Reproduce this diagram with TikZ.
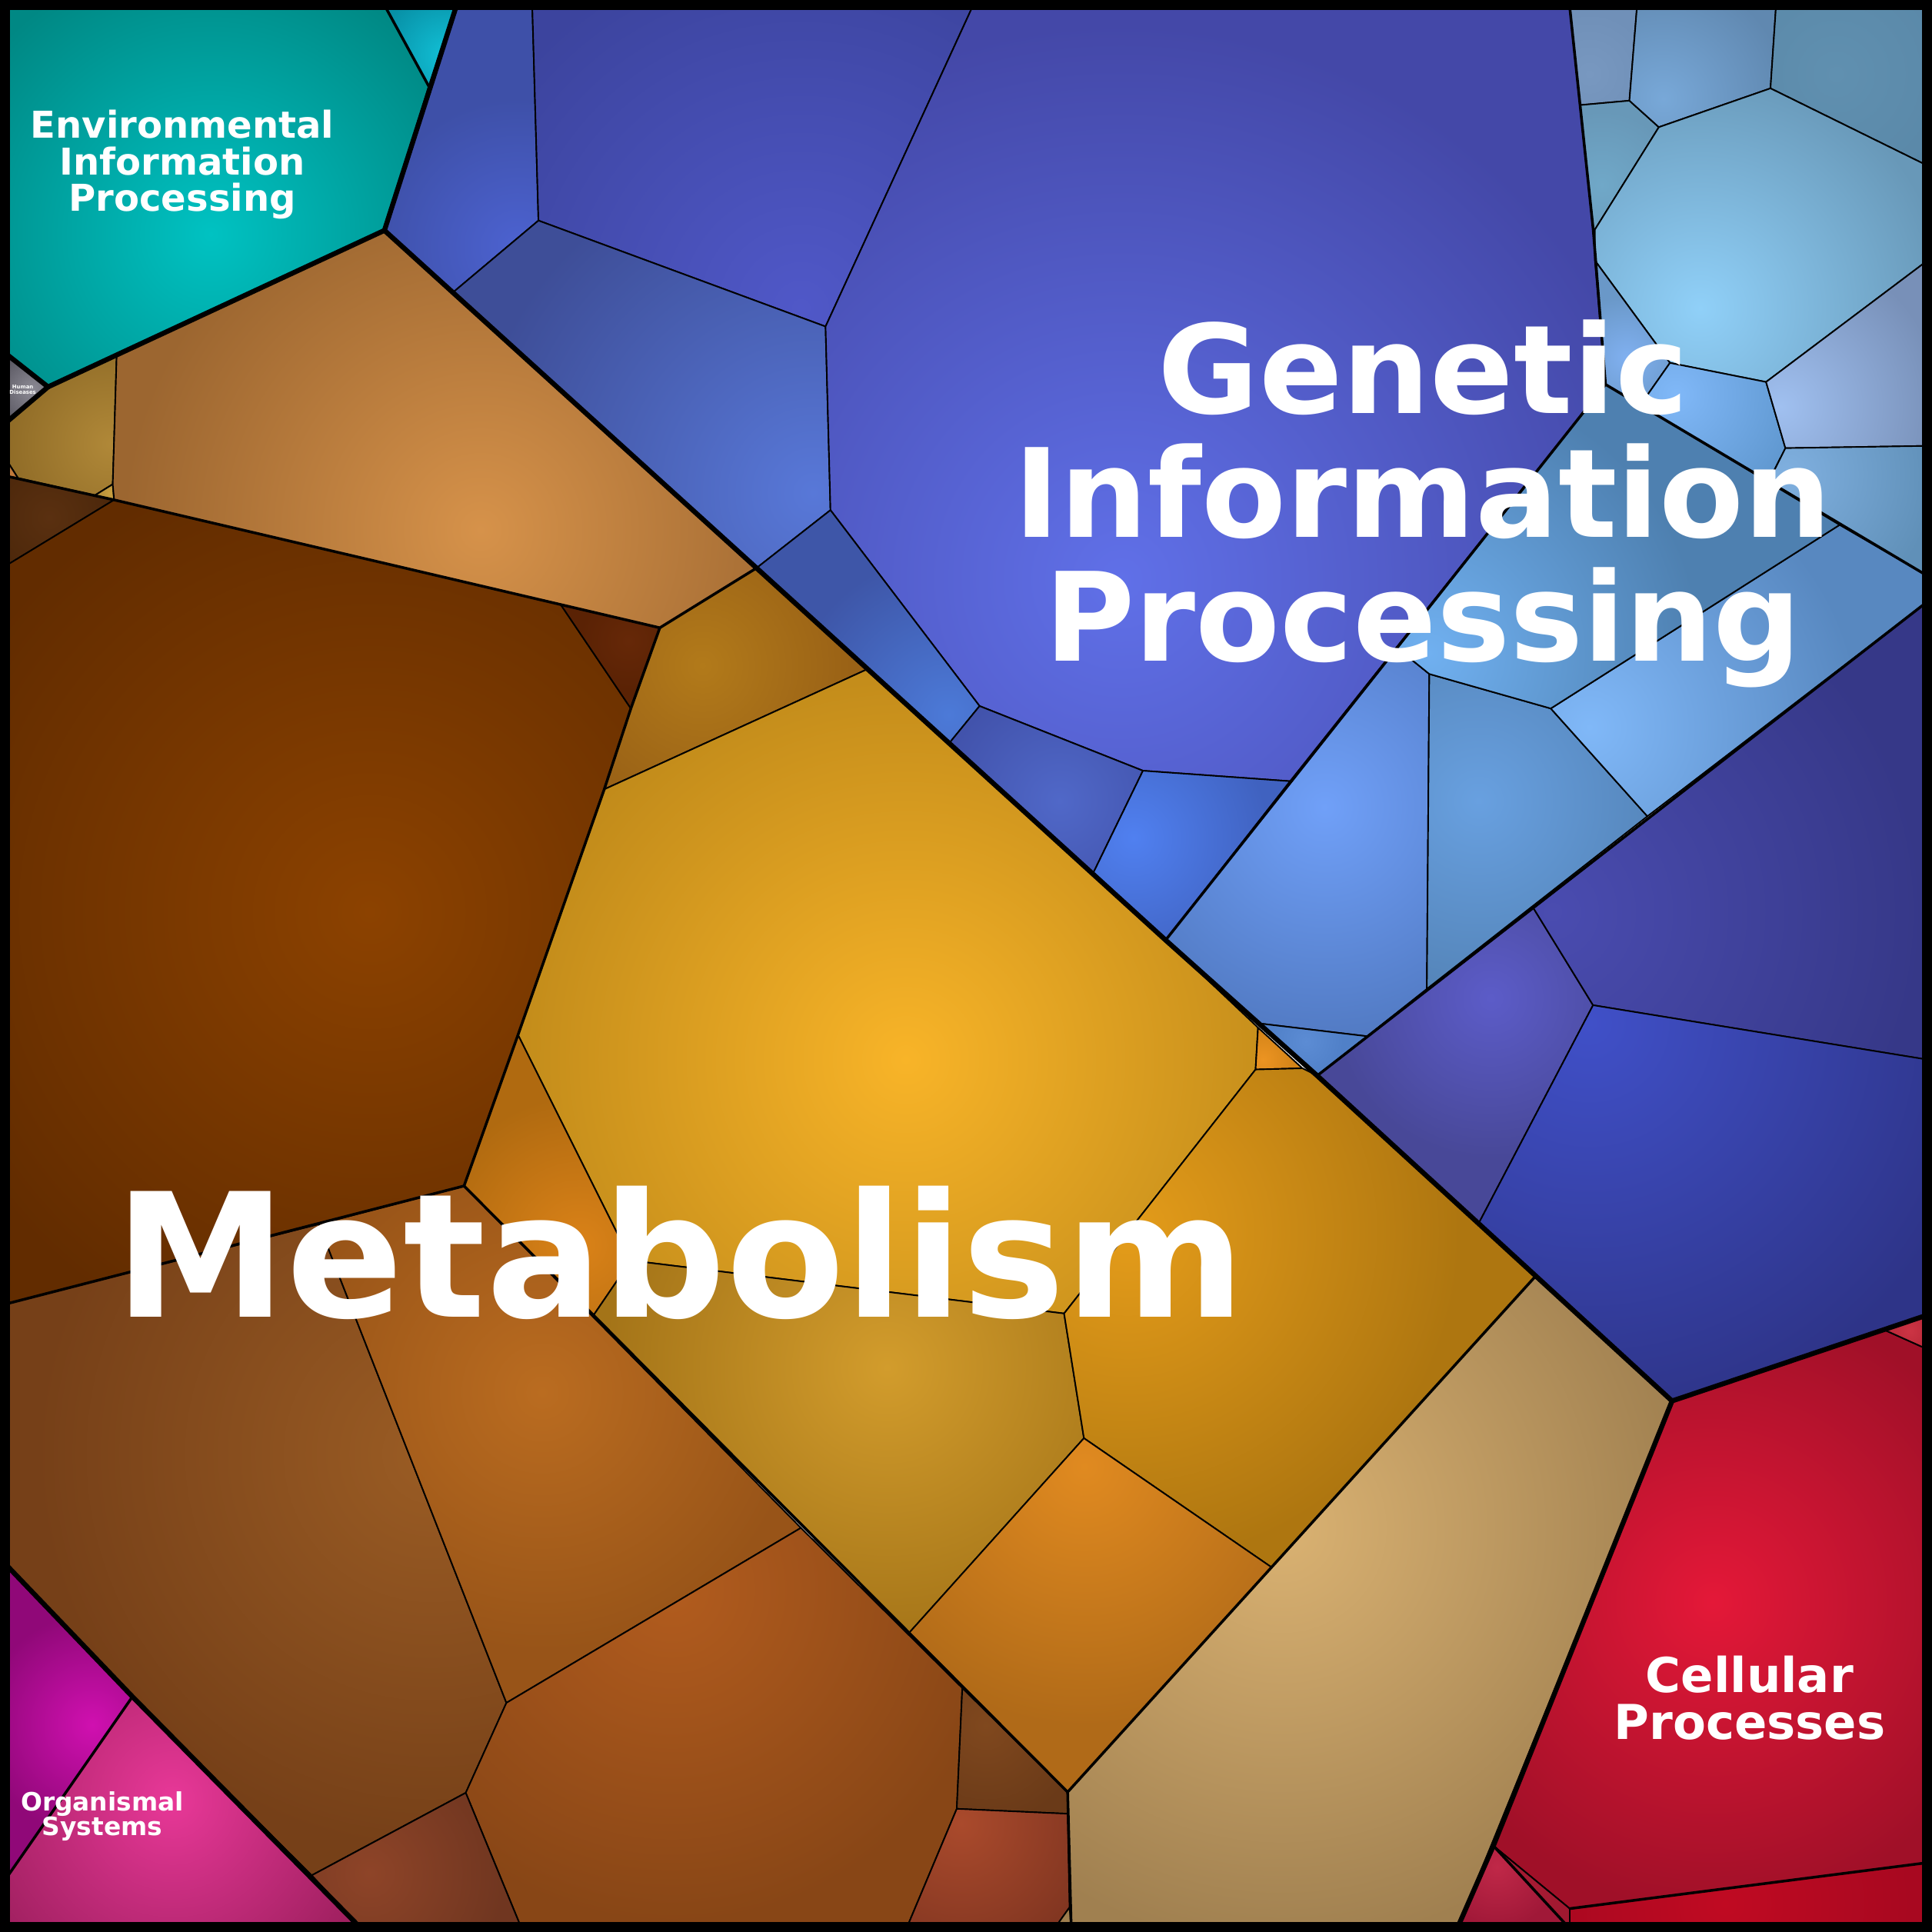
\documentclass[tikz,border=0pt]{standalone}
\usepackage{fontspec}
\setmainfont{DejaVu Sans}
\usepackage{tikz}
\tikzset{pathway/.style={draw=black,line width=1.2pt,line join=round},
 subclass/.style={draw=black,line width=2.2pt,line join=round,line cap=round},
 toplevel/.style={draw=black,line width=4pt,line join=round,line cap=round},
 caption/.style={text=white,align=center,inner sep=0pt},
 }
\newcommand{\vcell}[5]{%
  \definecolor{cellin}{HTML}{#2}%
  \definecolor{cellout}{HTML}{#3}%
  \fill[cellout] #1 -- cycle;
  \begin{scope}
    \clip #1 -- cycle;
    \shade[inner color=cellin,outer color=cellout] (#4) circle (#5pt);
  \end{scope}
  \draw[pathway] #1 -- cycle;
}

\begin{document}
\begin{tikzpicture}[x=1pt,y=-1pt]
        \useasboundingbox (0,0) rectangle (1568,1568);
        % Environmental Information Processing, Human Diseases
        \vcell{(6,6) -- (313,6) -- (348,70) -- (312,187) -- (39,314) -- (6,288)}{00C2C2}{008884}{171,190}{230}
        \vcell{(313,6) -- (370,6) -- (348,70)}{12C0D6}{0790A6}{362,45}{55}
        \vcell{(6,288) -- (39,314) -- (6,342)}{8C8A94}{5A5862}{26,316}{30}
        % Metabolism
        \vcell{(6,342) -- (39,314) -- (94.7,288) -- (91.5,393) -- (77,402) -- (14.6,388) -- (6,374.5)}{B08838}{8E6A26}{90,360}{90}
        \vcell{(6,374.5) -- (14.6,388) -- (6,386.6)}{C47C3C}{B06C34}{8,384}{10}
        \vcell{(77,402) -- (91.5,393) -- (92.6,405.7)}{C8A040}{B48C38}{90,400}{12}
        \vcell{(94.7,288) -- (312,187) -- (614,461) -- (535.5,509.5) -- (92.6,405.7) -- (91.5,393)}{D6924A}{9C6630}{390,430}{290}
        \vcell{(6,386.6) -- (92.6,405.7) -- (6,458.4)}{5A3010}{4A260A}{40,420}{60}
        \vcell{(6,458.4) -- (92.6,405.7) -- (455,490.6) -- (512,575) -- (490.4,640.6) -- (420.4,839.9) -- (376.6,962.5) -- (6,1058)}{8C4200}{622C00}{300,740}{380}
        \vcell{(455,490.6) -- (535.5,509.5) -- (512,575)}{662808}{5A2204}{510,520}{40}
        \vcell{(535.5,509.5) -- (614,461) -- (705,542.6) -- (490.4,640.6) -- (512,575)}{B27A1A}{9A6216}{570,540}{120}
        \vcell{(490.4,640.6) -- (705,542.6) -- (946,763) -- (1021,834) -- (1019,868) -- (863.6,1066) -- (512,1023) -- (420.4,839.9)}{F8B428}{B88418}{735,860}{380}
        \vcell{(1021,834) -- (1057,867) -- (1019,868)}{EC9422}{D48418}{1025,860}{25}
        \vcell{(420.4,839.9) -- (512,1023) -- (482,1067) -- (376.6,962.5)}{DA8218}{B06A10}{470,1010}{120}
        \vcell{(512,1023) -- (863.6,1066) -- (879.7,1167.2) -- (738,1325) -- (482,1067)}{D29C2C}{A47418}{720,1110}{230}
        \vcell{(1019,868) -- (1057,867) -- (1069,873) -- (1200,993) -- (1246,1036) -- (1032,1272) -- (879.7,1167.2) -- (863.6,1066)}{E49C1A}{AE7610}{915,1000}{270}
        \vcell{(879.7,1167.2) -- (1032,1272) -- (866.5,1454.4) -- (738,1325)}{E08A20}{B06A18}{880,1190}{210}
        \vcell{(6,1058) -- (258.7,993.5) -- (411,1382) -- (378,1455) -- (253,1522) -- (107.5,1377) -- (6,1271)}{9A5C24}{764018}{350,1180}{320}
        \vcell{(258.7,993.5) -- (376.6,962.5) -- (650,1240) -- (411,1382)}{BA6C20}{985418}{440,1130}{210}
        \vcell{(411,1382) -- (650,1240) -- (781,1370) -- (776.5,1468) -- (737,1562) -- (422,1562) -- (378,1455)}{B25C1E}{884616}{545,1290}{270}
        \vcell{(253,1522) -- (378,1455) -- (422,1562) -- (290,1562)}{8E4428}{703620}{300,1520}{110}
        \vcell{(781,1370) -- (866.5,1454.4) -- (866.5,1472) -- (776.5,1468)}{80481E}{6A3A18}{800,1400}{80}
        \vcell{(776.5,1468) -- (866.5,1472) -- (868,1548) -- (858,1562) -- (737,1562)}{AA4A2C}{7E3420}{780,1480}{120}
        \vcell{(868,1548) -- (869.3,1562) -- (858,1562)}{A08050}{987848}{866,1558}{10}
        \vcell{(1246,1036) -- (1357,1137) -- (1184,1562) -- (869.3,1562) -- (866.5,1454.4)}{DAB272}{A08050}{1040,1240}{340}
        % Genetic Information Processing
        \vcell{(370,6) -- (432,6) -- (437,179) -- (368,237) -- (312,187)}{4C62D0}{3E50A8}{420,200}{120}
        \vcell{(432,6) -- (789,6) -- (670,265) -- (437,179)}{5058C8}{3C449E}{650,250}{300}
        \vcell{(437,179) -- (670,265) -- (674,414) -- (614,461) -- (368,237)}{5878D8}{3E4E98}{660,400}{280}
        \vcell{(789,6) -- (1274,6) -- (1293,186) -- (1303,312) -- (1047,634) -- (927.6,625.5) -- (795,573) -- (674,414) -- (670,265)}{6070E8}{4448A8}{910,470}{450}
        \vcell{(674,414) -- (795,573) -- (771,602.4) -- (614,461)}{4C7AD8}{3E56A8}{770,580}{130}
        \vcell{(795,573) -- (927.6,625.5) -- (887,709) -- (771,602.4)}{5068C8}{4050A8}{860,650}{110}
        \vcell{(927.6,625.5) -- (1047,634) -- (946,763) -- (887,709)}{5080F0}{4062C0}{920,680}{110}
        \vcell{(946,763) -- (1134,526) -- (1160,547) -- (1158,802.6) -- (1109.5,841) -- (1021,830.5)}{70A0F8}{5078C0}{1075,655}{200}
        \vcell{(1021,830.5) -- (1109.5,841) -- (1069,873)}{5C8CD4}{5080C8}{1060,845}{30}
        \vcell{(1160,547) -- (1258.6,575) -- (1337,662.5) -- (1158,802.6)}{68A0E0}{5484B8}{1200,650}{160}
        \vcell{(1258.6,575) -- (1493,426) -- (1562,466) -- (1562,490) -- (1337,662.5)}{80B8F8}{5888C0}{1290,590}{220}
        \vcell{(1303,312) -- (1493,426) -- (1258.6,575) -- (1160,547) -- (1134,526)}{70B0F0}{4E80B0}{1160,530}{220}
        \vcell{(1274,6) -- (1328.5,6) -- (1322.4,81.7) -- (1282.2,85.3)}{7898C0}{7090B8}{1290,60}{50}
        \vcell{(1282.2,85.3) -- (1322.4,81.7) -- (1346.3,103.2) -- (1294.4,186.3) -- (1293,186)}{70A8C8}{6898B8}{1300,150}{60}
        \vcell{(1328.5,6) -- (1441.3,6) -- (1436.9,71.7) -- (1346.3,103.2) -- (1322.4,81.7)}{78A8D8}{6088B0}{1350,80}{100}
        \vcell{(1441.3,6) -- (1562,6) -- (1562,133.3) -- (1436.9,71.7)}{6090B0}{5A88A8}{1490,60}{100}
        \vcell{(1346.3,103.2) -- (1436.9,71.7) -- (1562,133.3) -- (1562,213.2) -- (1433.3,310) -- (1355.3,294.5) -- (1294.4,211.4) -- (1294.4,186.3)}{90D0F8}{6898B8}{1380,250}{200}
        \vcell{(1294.4,211.4) -- (1355.3,294.5) -- (1331.3,328.7) -- (1303,312)}{80B0F0}{6A98C8}{1320,290}{50}
        \vcell{(1355.3,294.5) -- (1433.3,310) -- (1449,363.7) -- (1435.4,390.8) -- (1331.3,328.7)}{80B8F8}{6098D0}{1360,320}{100}
        \vcell{(1433.3,310) -- (1562,213.2) -- (1562,361.9) -- (1449,363.7)}{A0C0F0}{7890B8}{1445,330}{130}
        \vcell{(1449,363.7) -- (1562,361.9) -- (1562,466) -- (1435.4,390.8)}{80B0E0}{6090B8}{1450,385}{120}
        \vcell{(1069,873) -- (1244.5,737) -- (1292.9,815.8) -- (1200,993)}{5C5CC8}{484898}{1210,810}{130}
        \vcell{(1244.5,737) -- (1562,490) -- (1562,859.6) -- (1292.9,815.8)}{4A4CB0}{363888}{1260,740}{300}
        \vcell{(1292.9,815.8) -- (1562,859.6) -- (1562,1068) -- (1357,1137) -- (1200,993)}{4050C8}{2E3488}{1290,830}{330}
        % Cellular Processes
        \vcell{(1357,1137) -- (1528.6,1079) -- (1562,1094) -- (1562,1512) -- (1274,1549) -- (1212,1498)}{E41838}{A01028}{1390,1300}{250}
        \vcell{(1528.6,1079) -- (1562,1068) -- (1562,1094)}{CC3444}{B82838}{1550,1080}{20}
        \vcell{(1212,1498) -- (1274,1549) -- (1274,1562) -- (1271,1562)}{A81C34}{A01830}{1240,1540}{30}
        \vcell{(1212,1498) -- (1271,1562) -- (1184,1562)}{C02848}{A01838}{1215,1515}{50}
        \vcell{(1274,1549) -- (1562,1512) -- (1562,1562) -- (1274,1562)}{C00A22}{A80820}{1400,1545}{150}
        % Organismal Systems
        \vcell{(6,1271) -- (107.5,1377) -- (6,1523)}{D010B0}{900878}{75,1400}{90}
        \vcell{(107.5,1377) -- (290,1562) -- (6,1562) -- (6,1523)}{E83898}{A02060}{140,1460}{170}
        % class borders
        \draw[subclass] (313,6) -- (348,70);
        \draw[subclass] (6,386.6) -- (92.6,405.7) -- (535.5,509.5) -- (614,461);
        \draw[subclass] (535.5,509.5) -- (512,575) -- (490.4,640.6) -- (420.4,839.9) -- (376.6,962.5) -- (6,1058);
        \draw[subclass] (376.6,962.5) -- (866.5,1454.4) -- (1246,1036);
        \draw[subclass] (866.5,1454.4) -- (869.3,1562);
        \draw[subclass] (1274,6) -- (1293,186) -- (1295,211) -- (1303,312) -- (1562,466);
        \draw[subclass] (1303,312) -- (946,763);
        \draw[subclass] (1069,873) -- (1562,490);
        \draw[subclass] (1212,1498) -- (1271,1562);
        \draw[subclass] (1274,1549) -- (1562,1512);
        \draw[subclass] (107.5,1377) -- (6,1523);
        \draw[toplevel] (370,6) -- (312,187) -- (39,314) -- (6,288);
        \draw[toplevel] (39,314) -- (6,342);
        \draw[toplevel] (312,187) -- (614,461) -- (946,763) -- (1069,873) -- (1200,993) -- (1357,1137) -- (1562,1068);
        \draw[toplevel] (1357,1137) -- (1212,1498) -- (1184,1562);
        \draw[toplevel] (6,1271) -- (107.5,1377) -- (290,1562);
        \draw[line width=8pt] (4,4) rectangle (1564,1564);
        % labels
        \node[caption,font={\fontsize{30}{29.5}\selectfont\bfseries}] (envlabel) at (148,133.6) {Environmental\\Information\\Processing};
        \node[caption,font={\fontsize{4.3}{4.4}\selectfont\bfseries}] (hdlabel) at (18.5,316) {Human\\Diseases};
        \node[caption,font={\fontsize{100}{100.5}\selectfont\bfseries}] (genlabel) at (1155,408.8) {Genetic\\Information\\Processing};
        \node[caption,font={\fontsize{140}{140}\selectfont\bfseries}] (metlabel) at (552,1017) {Metabolism};
        \node[caption,font={\fontsize{39}{38.5}\selectfont\bfseries}] (celllabel) at (1420,1378) {Cellular\\Processes};
        \node[caption,font={\fontsize{20.5}{20}\selectfont\bfseries}] (orglabel) at (83,1474) {Organismal\\Systems};
    \end{tikzpicture}
\end{document}
